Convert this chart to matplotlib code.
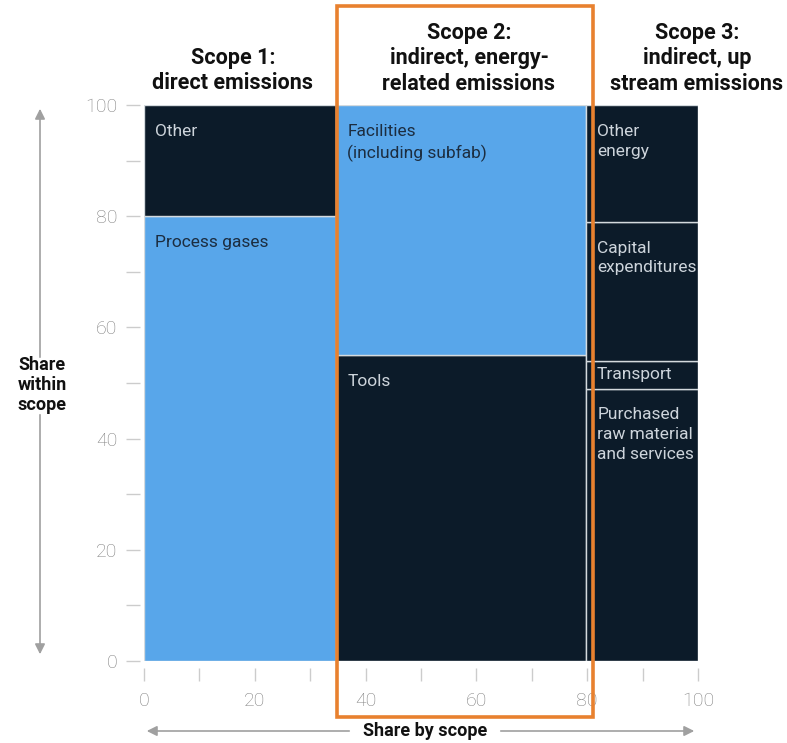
import matplotlib
matplotlib.use("Agg")
import matplotlib.pyplot as plt
from matplotlib.patches import Rectangle, FancyArrowPatch

plt.rcParams['font.family'] = ['Roboto', 'DejaVu Sans']

# Data
scope_titles = ["Scope 1:\ndirect emissions",
                "Scope 2:\nindirect, energy-\nrelated emissions",
                "Scope 3:\nindirect, up\nstream emissions"]
scope_widths = [34.7, 45.1, 20.2]
scope1_labels = ["Process gases", "Other"]
scope1_values = [80, 20]
scope2_labels = ["Tools", "Facilities\n(including subfab)"]
scope2_values = [55, 45]
scope3_labels = ["Purchased\nraw material\nand services", "Transport", "Capital\nexpenditures", "Other\nenergy"]
scope3_values = [49, 5, 25, 21]
x_ticks = [0, 20, 40, 60, 80, 100]
y_ticks = [0, 20, 40, 60, 80, 100]

DARK = "#0c1b29"
BLUE = "#58a6ea"
TXT_LIGHT = "#cdd4db"
TXT_DARK = "#1c2d40"
EDGE = "#d4dade"

segments = [
    (scope1_labels, scope1_values, [BLUE, DARK]),
    (scope2_labels, scope2_values, [DARK, BLUE]),
    (scope3_labels, scope3_values, [DARK, DARK, DARK, DARK]),
]

fig = plt.figure(figsize=(7.87, 7.43), dpi=100)
ax = fig.add_axes([144/787, 1-661/743, (698-144)/787, (661-105)/743])

x0 = 0
for (labels, vals, cols), w in zip(segments, scope_widths):
    y0 = 0
    for lab, v, c in zip(labels, vals, cols):
        ax.bar(x0, v, width=w, bottom=y0, align='edge', color=c,
               edgecolor=EDGE, linewidth=1.0)
        tc = TXT_DARK if c == BLUE else TXT_LIGHT
        if lab == "Transport":
            ax.text(x0 + 1.9, y0 + v/2, lab, color=tc, fontsize=12.5,
                    va='center', ha='left', linespacing=1.4)
        else:
            ax.text(x0 + 2.0, y0 + v - 3.4, lab, color=tc, fontsize=12.5,
                    va='top', ha='left', linespacing=1.4)
        y0 += v
    x0 += w

ax.set_xlim(0, 100)
ax.set_ylim(0, 100)
for s in ax.spines.values():
    s.set_visible(False)
ax.spines['left'].set_position(('outward', 3))
ax.spines['bottom'].set_position(('outward', 5))
ax.set_xticks(range(0, 101, 10))
ax.set_xticklabels([str(t) if t in x_ticks else "" for t in range(0, 101, 10)],
                   fontweight='light')
ax.set_yticks(range(0, 101, 10))
ax.set_yticklabels([str(t) if t in y_ticks else "" for t in range(0, 101, 10)],
                   fontweight='light')
ax.tick_params(axis='x', length=9, width=1, color='#cccccc', labelcolor='#808080',
               labelsize=14, pad=8)
ax.tick_params(axis='y', length=10, width=1, color='#cccccc', labelcolor='#808080',
               labelsize=14, pad=6)

# Scope titles
centers_px = [233, 469, 697]
title_tops = [47, 22, 22]
for t, cx, ty in zip(scope_titles, centers_px, title_tops):
    fig.text(cx/787, 1-ty/743, t, ha='center', va='top', fontsize=15.5,
             fontweight='bold', color='#111111', linespacing=1.2)

# Axis titles with arrows
ARROW = '#a0a0a0'
fig.text(42/787, 1-385/743, "Share\nwithin\nscope", ha='center', va='center',
         fontsize=13, fontweight='bold', color='#111111', linespacing=1.15)
fig.add_artist(FancyArrowPatch((40/787, 1-360/743), (40/787, 1-106/743),
               transform=fig.transFigure, arrowstyle='-|>,head_length=6,head_width=3',
               color=ARROW, lw=1.2))
fig.add_artist(FancyArrowPatch((40/787, 1-412/743), (40/787, 1-657/743),
               transform=fig.transFigure, arrowstyle='-|>,head_length=6,head_width=3',
               color=ARROW, lw=1.2))
fig.text(425/787, 1-731/743, "Share by scope", ha='center', va='center',
         fontsize=13, fontweight='bold', color='#111111')
fig.add_artist(FancyArrowPatch((352/787, 1-731/743), (144/787, 1-731/743),
               transform=fig.transFigure, arrowstyle='-|>,head_length=6,head_width=3',
               color=ARROW, lw=1.2))
fig.add_artist(FancyArrowPatch((498/787, 1-731/743), (697/787, 1-731/743),
               transform=fig.transFigure, arrowstyle='-|>,head_length=6,head_width=3',
               color=ARROW, lw=1.2))

# Orange highlight box
fig.add_artist(Rectangle((337/787, 1-717/743), (593-337)/787, (717-6)/743,
               transform=fig.transFigure, fill=False, edgecolor='#e8812f',
               linewidth=2.6, zorder=10))

fig.savefig("out.png", dpi=100, facecolor='white')
